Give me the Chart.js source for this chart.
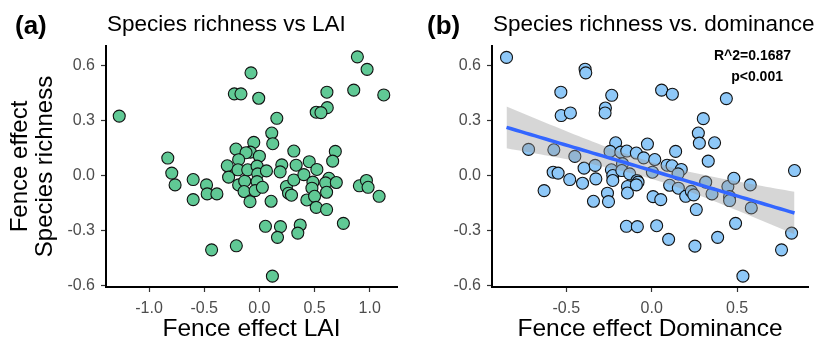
<!DOCTYPE html>
<html>
<head>
<meta charset="utf-8">
<script src="https://cdn.jsdelivr.net/npm/chart.js@4.4.1/dist/chart.umd.min.js"></script>
<style>
  html, body { margin:0; padding:0; background:#fff; }
  #lienzo { position:relative; width:818px; height:341px; }
  .panel { position:absolute; top:0; width:409px; height:341px; }
</style>
</head>
<body>
<div id="lienzo">
  <div class="panel" style="left:0"><canvas id="chartLai" width="409" height="341"></canvas></div>
  <div class="panel" style="left:409px"><canvas id="chartDom" width="409" height="341"></canvas></div>
</div>
<script>
// ── Datos (efecto de la cerca) ──
const laiX = [-1.27, 0.888, 0.976, 0.855, 1.127, -0.076, -0.227, -0.167, -0.006, 0.612, 0.615, 0.515, 0.558, 0.158, 0.112, 0.121,
  -0.051, -0.212, -0.082, -0.121, 0.312, 0.688, -0.83, -0.794, -0.764, -0.6, -0.6, -0.479, -0.473, -0.385, -0.291, -0.279,
  -0.188, -0.194, -0.188, -0.133, -0.139, -0.106, -0.085, 0.0, -0.021, -0.015, -0.021, -0.039, 0.027, 0.064, 0.106, 0.203,
  0.188, 0.245, 0.264, 0.291, 0.333, 0.312, 0.403, 0.452, 0.485, 0.476, 0.43, 0.5, 0.521, 0.515, 0.609, 0.63, 0.6, 0.609,
  0.697, 0.664, 0.761, 0.906, 0.97, 0.985, 1.085, 0.055, 0.191, 0.164, 0.37, 0.348, -0.433, -0.209, 0.118];
const laiY = [0.323, 0.645, 0.577, 0.464, 0.438, 0.558, 0.444, 0.444, 0.42, 0.453, 0.369, 0.344, 0.342, 0.311, 0.231, 0.173,
  0.18, 0.144, 0.127, 0.124, 0.133, 0.131, 0.095, 0.013, -0.051, -0.022, -0.131, -0.051, -0.1, -0.1, 0.053, -0.009,
  0.086, 0.031, -0.051, -0.031, -0.087, 0.031, -0.142, 0.105, 0.051, 0.009, -0.033, -0.082, -0.064, 0.025, -0.14, 0.058,
  0.02, -0.06, -0.096, -0.107, 0.056, -0.024, 0.005, 0.075, -0.036, -0.069, -0.133, -0.113, 0.033, -0.173, -0.185, -0.015, -0.04, -0.091,
  -0.038, 0.078, -0.26, -0.056, -0.027, -0.064, -0.113, -0.276, -0.278, -0.336, -0.269, -0.313, -0.404, -0.382, -0.547];

const domX = [-0.85, -0.39, -0.386, -0.532, -0.234, 0.058, 0.121, 0.437, -0.53, -0.476, -0.271, -0.273, 0.302, 0.273, 0.279, 0.368,
  -0.025, -0.211, 0.14, -0.721, -0.573, -0.45, -0.63, -0.577, -0.548, -0.48, -0.405, -0.396, -0.331, -0.327, -0.341, -0.259,
  -0.253, -0.244, -0.236, -0.228, -0.228, -0.181, -0.171, -0.175, -0.146, -0.129, -0.142, -0.142, -0.09, -0.047, -0.086, -0.08,
  -0.09, 0.018, 0.004, 0.008, 0.053, -0.148, -0.084, 0.029, 0.099, 0.253, 0.261, 0.09, 0.119, 0.173, 0.154, 0.105,
  0.156, 0.199, 0.232, 0.246, 0.331, 0.316, 0.353, 0.386, 0.446, 0.481, 0.456, 0.456, 0.491, 0.534, 0.577, 0.583,
  0.76, 0.819, 0.836];
const domY = [0.642, 0.578, 0.558, 0.453, 0.436, 0.464, 0.442, 0.418, 0.326, 0.34, 0.367, 0.34, 0.309, 0.231, 0.176, 0.178,
  0.171, 0.178, 0.131, 0.142, 0.14, 0.104, -0.082, 0.018, 0.013, -0.022, -0.042, 0.04, 0.055, -0.018, -0.14, -0.096,
  -0.142, 0.131, 0.031, 0.0, -0.027, 0.127, 0.064, 0.027, 0.133, 0.009, -0.06, -0.095, 0.122, 0.096, -0.027, -0.036,
  -0.051, 0.087, 0.018, -0.115, -0.131, -0.276, -0.278, -0.273, -0.347, -0.384, -0.185, 0.056, 0.053, 0.033, 0.009, -0.053,
  -0.069, -0.113, -0.086, -0.105, 0.078, -0.036, -0.1, -0.336, -0.06, -0.015, -0.115, -0.136, -0.26, -0.547, -0.051, -0.176,
  -0.404, -0.313, 0.027];

const ticksY   = [-0.6, -0.3, 0, 0.3, 0.6];
const ticksLai = [-1, -0.5, 0, 0.5, 1];
const ticksDom = [-0.5, 0, 0.5];

const T_975 = 1.99; // t de Student, ~81 g.l.
const FUENTE = '"Liberation Sans", Arial, sans-serif';
Chart.defaults.font.family = FUENTE;

// ── Recta de regresión + banda de confianza 95% (como geom_smooth lm) ──
function ajusteLineal(xs, ys, pasos) {
  const n = xs.length;
  const mx = xs.reduce((a, b) => a + b, 0) / n;
  const my = ys.reduce((a, b) => a + b, 0) / n;
  let sxx = 0, sxy = 0;
  xs.forEach((x, i) => { sxx += (x - mx) ** 2; sxy += (x - mx) * (ys[i] - my); });
  const b = sxy / sxx, a = my - b * mx;
  let sse = 0;
  xs.forEach((x, i) => { sse += (ys[i] - a - b * x) ** 2; });
  const s = Math.sqrt(sse / (n - 2));
  const x0 = Math.min(...xs), x1 = Math.max(...xs);
  const linea = [], sup = [], inf = [];
  for (let k = 0; k <= pasos; k++) {
    const x = x0 + (x1 - x0) * k / pasos;
    const yh = a + b * x;
    const se = s * Math.sqrt(1 / n + (x - mx) ** 2 / sxx);
    linea.push({ x, y: yh });
    sup.push({ x, y: yh + T_975 * se });
    inf.push({ x, y: yh - T_975 * se });
  }
  return { linea, sup, inf };
}

const puntos = (xs, ys) => xs.map((x, i) => ({ x, y: ys[i] }));

// ── Textos: letra del panel, título y anotaciones ──
const rotulos = {
  id: 'rotulos',
  afterDraw(chart, args, o) {
    const { ctx, chartArea, scales } = chart;
    ctx.save();
    ctx.fillStyle = '#000';
    ctx.textAlign = 'left';
    ctx.textBaseline = 'alphabetic';
    ctx.font = `bold 26px ${FUENTE}`;
    ctx.fillText(o.letra, o.letraX, 34);
    ctx.font = `22.5px ${FUENTE}`;
    ctx.fillText(o.titulo, chartArea.left + 1, 31);
    ctx.textAlign = 'center';
    ctx.textBaseline = 'middle';
    ctx.font = `bold 14px ${FUENTE}`;
    (o.notas || []).forEach(n => {
      ctx.fillText(n.texto, scales.x.getPixelForValue(n.x), scales.y.getPixelForValue(n.y));
    });
    ctx.restore();
  }
};

function ejes(xMin, xMax, xTicks, xTitulo, yTitulo, anchoY) {
  const grid = { drawOnChartArea:false, drawTicks:true, tickLength:5, tickColor:'#333', tickWidth:1.2 };
  const borde = { display:true, color:'#000', width:2 };
  const tick = { color:'#4d4d4d', font:{ size:16 }, autoSkip:false, maxRotation:0, callback: v => v.toFixed(1) };
  return {
    x: {
      type:'linear', min:xMin, max:xMax, grid, border:borde,
      ticks:{ ...tick, padding:7 },
      afterBuildTicks: s => { s.ticks = xTicks.map(v => ({ value:v })); },
      afterFit: s => { s.height = 54; },
      title:{ display:true, text:xTitulo, color:'#000', font:{ size:24.5, lineHeight:1 }, padding:0 }
    },
    y: {
      type:'linear', min:-0.606, max:0.704, grid, border:borde,
      ticks:{ ...tick, padding:6 },
      afterBuildTicks: s => { s.ticks = ticksY.map(v => ({ value:v })); },
      afterFit: s => { s.width = anchoY; },
      title: yTitulo
        ? { display:true, text:yTitulo, color:'#000', font:{ size:24, lineHeight:1.05 }, padding:{ top:8, bottom:0 } }
        : { display:false }
    }
  };
}

const base = {
  responsive:false, animation:false, events:[],
  plugins:{ legend:{ display:false }, tooltip:{ enabled:false } }
};

// ── Panel (a): LAI ──
new Chart(document.getElementById('chartLai'), {
  type:'scatter',
  data:{ datasets:[{
    data: puntos(laiX, laiY),
    backgroundColor:'#60c995', borderColor:'#111', borderWidth:1.1, pointRadius:6
  }]},
  options:{
    ...base,
    layout:{ padding:{ top:46, right:12, bottom:0, left:0 } },
    scales: ejes(-1.39, 1.247, ticksLai, 'Fence effect LAI', ['Fence effect', 'Species richness'], 106),
    plugins:{ ...base.plugins, rotulos:{ letra:'(a)', letraX:15, titulo:'Species richness vs LAI' } }
  },
  plugins:[rotulos]
});

// ── Panel (b): dominancia ──
const fit = ajusteLineal(domX, domY, 60);
new Chart(document.getElementById('chartDom'), {
  type:'scatter',
  data:{ datasets:[
    { type:'line', data:fit.linea, borderColor:'#3366ff', borderWidth:3.5, pointRadius:0, fill:false, order:0 },
    { type:'line', data:fit.sup, borderWidth:0, pointRadius:0, fill:'+1', backgroundColor:'rgba(153,153,153,0.4)', order:1 },
    { type:'line', data:fit.inf, borderWidth:0, pointRadius:0, fill:false, order:2 },
    { data: puntos(domX, domY), backgroundColor:'#8ec8f8', borderColor:'#111', borderWidth:1.1, pointRadius:6, order:3 }
  ]},
  options:{
    ...base,
    layout:{ padding:{ top:46, right:10, bottom:0, left:0 } },
    scales: ejes(-0.935, 0.915, ticksDom, 'Fence effect Dominance', null, 83),
    plugins:{ ...base.plugins, rotulos:{
      letra:'(b)', letraX:18, titulo:'Species richness vs. dominance',
      notas:[ { texto:'R^2=0.1687', x:0.59, y:0.649 }, { texto:'p<0.001', x:0.617, y:0.535 } ]
    } }
  },
  plugins:[rotulos]
});
</script>
</body>
</html>
